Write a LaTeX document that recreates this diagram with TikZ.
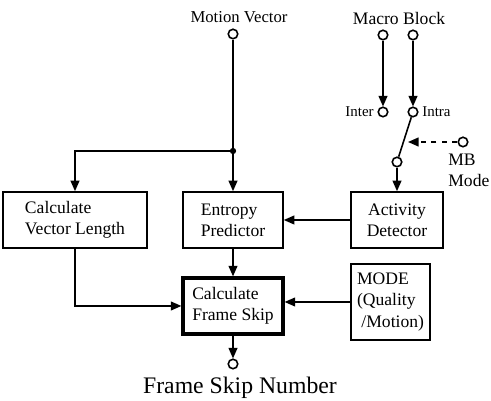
\documentclass[tikz,border=0pt]{standalone}
\usepackage{fontspec}
\setmainfont{Liberation Serif}
\usetikzlibrary{arrows.meta}

\tikzset{
	blk/.style={draw, line width=0.9pt, inner sep=2pt, align=left, font=\fontsize{10}{12}\selectfont},
	term/.style={draw, circle, line width=0.9pt, minimum size=0.19cm, inner sep=0pt},
	lbl/.style={inner sep=0pt, font=\fontsize{10}{12}\selectfont},
	sig/.style={line width=0.9pt, -{Triangle[length=6pt,width=5pt]}},
	wire/.style={line width=0.9pt}
}

\begin{document}
\begin{tikzpicture}[x=0.02cm, y=-0.02cm]
	\useasboundingbox (0,0) rectangle (491,401);
	\node[lbl, font=\fontsize{9.5}{11}\selectfont] (mvtext) at (239,17) {Motion Vector};
	\node[term] (mvin) at (233,34) {};
	\node[lbl] (mbtext) at (399,18) {Macro Block};
	\node[term] (mbl) at (383,35) {};
	\node[term] (mbr) at (413,35) {};
	\node[term] (inter) at (383,112) {};
	\node[term] (intra) at (413,112) {};
	\node[lbl, font=\fontsize{8.5}{9}\selectfont, anchor=east] (intertext) at (374,112) {Inter};
	\node[lbl, font=\fontsize{8.5}{9}\selectfont, anchor=west] (intratext) at (422,112) {Intra};
	\node[term] (swout) at (397,162) {};
	\node[term] (mbmode) at (463,142) {};
	\coordinate (swmid) at (408,142);
	\node[lbl, align=left, anchor=north west] (mbmodetext) at (448,154) {MB\\Mode};
	\coordinate (split) at (233,151);
	\node[blk, minimum width=2.88cm, minimum height=1.12cm] (vlen) at (75,220) {Calculate\\Vector Length};
	\node[blk, minimum width=2cm, minimum height=1.12cm] (entropy) at (233,220) {Entropy\\Predictor};
	\node[blk, align=center, minimum width=1.84cm, minimum height=1.12cm] (activity) at (397,220) {Activity\\Detector};
	\node[blk, line width=1.8pt, minimum width=2cm, minimum height=1.12cm] (skip) at (233,306) {Calculate\\Frame Skip};
	\node[blk, minimum width=1.58cm, minimum height=1.52cm] (mode) at (390.5,302) {MODE\\(Quality\\\ /Motion)};
	\node[term] (skipout) at (233,364) {};
	\node[lbl, font=\fontsize{13.5}{15}\selectfont] (skiptext) at (240,388) {Frame Skip Number};

	\draw[wire] (mvin) -- (split);
	\fill (split) circle (1.8pt);
	\draw[sig] (split) -- (entropy);
	\draw[sig] (split) -| (vlen);
	\draw[sig] (mbl) -- (inter);
	\draw[sig] (mbr) -- (intra);
	\draw[wire] (intra) -- (swout);
	\draw[sig, dashed] (mbmode) -- (swmid);
	\draw[sig] (swout) -- (activity);
	\draw[sig] (activity) -- (entropy);
	\draw[sig] (entropy) -- (skip);
	\draw[sig] (vlen.south) |- (skip.west);
	\draw[sig] (mode.west) -- (skip.east |- mode.west);
	\draw[sig] (skip) -- (skipout);
\end{tikzpicture}
\end{document}
